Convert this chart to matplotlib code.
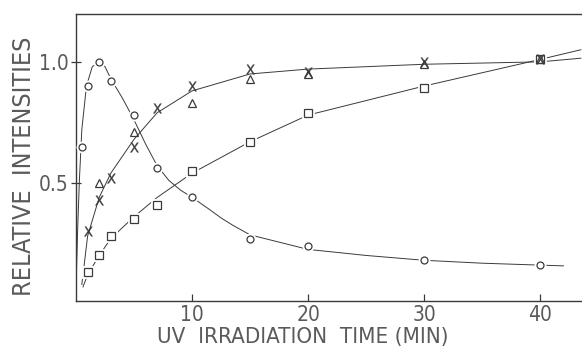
import numpy as np
import matplotlib
matplotlib.use("Agg")
import matplotlib.pyplot as plt

# measured points (min, relative intensity)
circ_t = [0.5, 1, 2, 3, 5, 7, 10, 15, 20, 30, 40]
circ_y = [0.65, 0.90, 1.00, 0.92, 0.78, 0.56, 0.44, 0.27, 0.24, 0.18, 0.16]

cross_t = [1, 2, 3, 5, 7, 10, 15, 20, 30, 40]
cross_y = [0.30, 0.43, 0.52, 0.65, 0.81, 0.90, 0.97, 0.96, 1.00, 1.01]

tri_t = [2, 5, 10, 15, 20, 30, 40]
tri_y = [0.50, 0.71, 0.83, 0.93, 0.95, 0.99, 1.01]

sq_t = [1, 2, 3, 5, 7, 10, 15, 20, 30, 40]
sq_y = [0.13, 0.20, 0.28, 0.35, 0.41, 0.55, 0.67, 0.79, 0.89, 1.01]

# hand-drawn curves, vertices
circ_curve_t = [0.05, 0.15, 0.3, 0.5, 0.9, 1.4, 2.0, 2.5, 3.0, 4.0, 5.0, 6.0, 7.0, 8.0, 9.0, 10,
                11.5, 12.5, 13.5, 15, 20, 25, 30, 35, 40, 42]
circ_curve_y = [0.15, 0.32, 0.52, 0.72, 0.90, 0.98, 1.00, 0.98, 0.93, 0.85, 0.76, 0.66, 0.57, 0.51, 0.47, 0.44,
                0.39, 0.355, 0.325, 0.285, 0.225, 0.20, 0.18, 0.168, 0.16, 0.157]

cross_curve_t = [0.5, 1, 2, 3, 5, 7, 10, 15, 20, 30, 40, 43.5]
cross_curve_y = [0.08, 0.28, 0.44, 0.54, 0.68, 0.79, 0.88, 0.95, 0.97, 0.99, 1.00, 1.015]

sq_curve_t = [0.6, 1, 2, 3, 5, 7, 10, 15, 20, 30, 40, 43.5]
sq_curve_y = [0.07, 0.12, 0.20, 0.27, 0.36, 0.44, 0.54, 0.67, 0.78, 0.90, 1.01, 1.05]

ink = "#3a3a3a"
txt = "#5a5a5a"

fig = plt.figure(figsize=(5.82, 3.57), dpi=100)
ax = fig.add_axes([0.1306, 0.157, 0.8694, 0.804])

lw = 0.7
ax.plot(circ_curve_t, circ_curve_y, color=ink, lw=lw, zorder=2)
ax.plot(cross_curve_t, cross_curve_y, color=ink, lw=lw, zorder=2)
ax.plot(sq_curve_t, sq_curve_y, color=ink, lw=lw, zorder=2)


def markers(t, y, m, ms, z, halo=True, **kw):
    # white halo first, so the drawn line breaks at each symbol
    if halo:
        ax.plot(t, y, ls="none", marker=m, ms=ms, mfc="white", mec="white", mew=3.5, zorder=z)
    ax.plot(t, y, ls="none", marker=m, ms=ms, zorder=z + 0.5, **kw)


markers(circ_t, circ_y, "o", 5, 4, mfc="white", mec=ink, mew=0.9)
markers(sq_t, sq_y, "s", 6, 5, mfc="white", mec=ink, mew=0.9)
markers(cross_t, cross_y, r"$\mathsf{X}$", 7, 6, halo=False, color=ink, mew=0.2)
markers(tri_t, tri_y, "^", 6, 7, halo=False, mfc="none", mec=ink, mew=0.9)

ax.set_xlim(0, 43.6)
ax.set_ylim(0.012, 1.198)

ax.spines["right"].set_visible(False)
for s in ["left", "top", "bottom"]:
    ax.spines[s].set_color(ink)
    ax.spines[s].set_linewidth(1.0)

font = dict(family="DejaVu Sans", stretch="condensed", weight="light", color=txt)

ax.set_xticks([10, 20, 30, 40])
ax.set_xticklabels(["10", "20", "30", "40"], fontsize=15, **font)
ax.set_yticks([0.5, 1.0])
ax.set_yticklabels(["0.5", "1.0"], fontsize=15, **font)
ax.tick_params(axis="x", direction="in", length=5, width=0.9, color=ink, pad=3)
ax.tick_params(axis="y", direction="inout", length=7, width=0.9, color=ink, pad=2)

ax.set_xlabel("UV  IRRADIATION  TIME (MIN)", fontsize=16, **font)
ax.xaxis.set_label_coords(0.449, -0.09, transform=ax.transAxes)
ax.xaxis.label.set_va("top")
fig.text(0.042, 0.535, "RELATIVE  INTENSITIES", rotation=90, ha="center", va="center",
         fontsize=18, **font)

fig.savefig("out.png", dpi=100, facecolor="white")
